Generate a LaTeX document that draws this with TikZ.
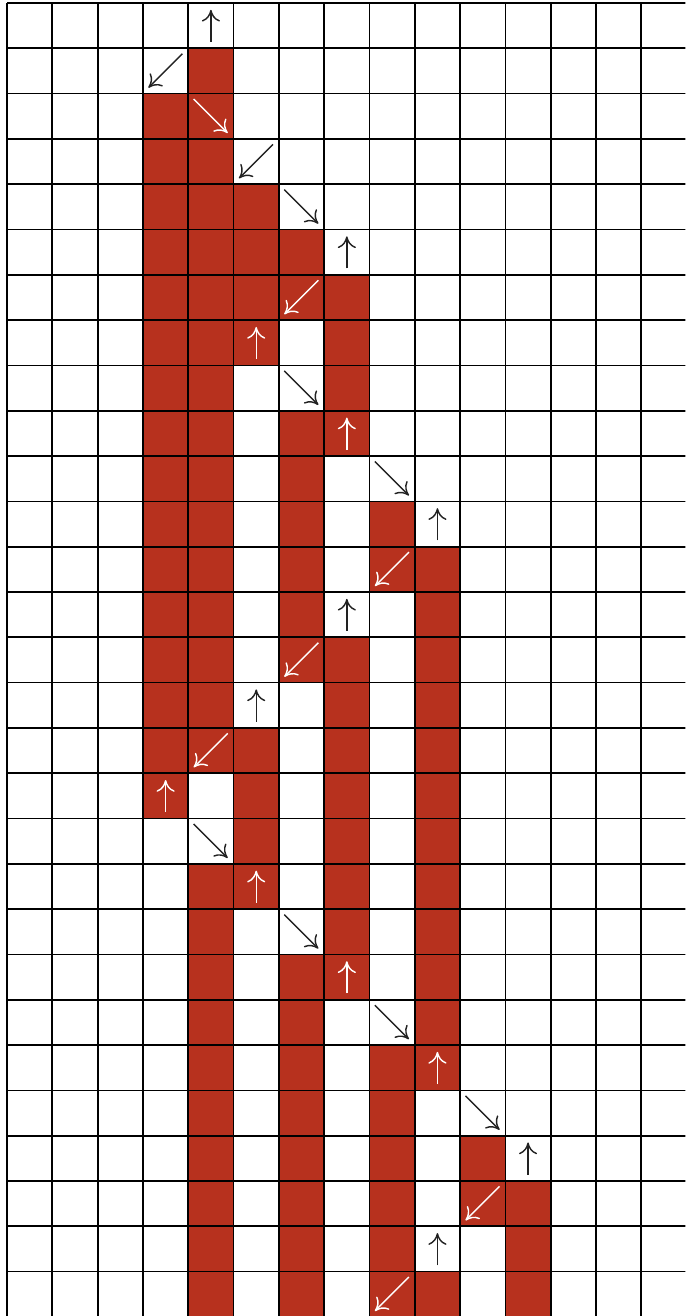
\documentclass[tikz,border=0pt]{standalone}
\usepackage{tikz}
\usepackage{xcolor}
\usetikzlibrary{arrows.meta}
\definecolor{CellRed}{HTML}{B7311E}
\definecolor{Ink}{HTML}{222222}
\tikzset{
  gridline/.style={line width=1.1pt, draw=black},
  cellfill/.style={fill=CellRed},
  flowarrow/.style={-{Computer Modern Rightarrow[length=2.6mm, width=4mm]}, line width=0.9pt}
}
\begin{document}
\begin{tikzpicture}
    \useasboundingbox (-0.155,0.066) rectangle (14.97,-28.98);
    \clip (-0.155,0.066) rectangle (14.97,-28.98);

    % filled cells, column / first row / last row
    \foreach \c/\a/\b in {3/2/17, 4/1/16, 4/19/28, 5/4/7, 5/16/19,
                          6/5/6, 6/9/14, 6/21/28, 7/6/9, 7/14/21,
                          8/11/12, 8/23/28, 9/12/23, 9/28/28,
                          10/25/26, 11/26/28}
      \fill[cellfill] (\c,-\a) rectangle ({\c+1},{-\b-1});

    \draw[gridline] (0,0) grid (15,-29);

    % up arrows
    \foreach \c/\r/\col in {4/0/Ink, 7/5/Ink, 5/7/white, 7/9/white,
                            9/11/Ink, 7/13/Ink, 5/15/Ink, 3/17/white,
                            5/19/white, 7/21/white, 9/23/white,
                            11/25/Ink, 9/27/Ink}
      \draw[flowarrow, draw=\col] ({\c+0.5},{-\r-0.86}) -- ({\c+0.5},{-\r-0.15});
    % down-left arrows
    \foreach \c/\r/\col in {3/1/Ink, 5/3/Ink, 6/6/white, 8/12/white,
                            6/14/white, 4/16/white, 10/26/white, 8/28/white}
      \draw[flowarrow, draw=\col] ({\c+0.87},{-\r-0.12}) -- ({\c+0.12},{-\r-0.87});
    % down-right arrows
    \foreach \c/\r/\col in {4/2/white, 6/4/Ink, 6/8/Ink, 8/10/Ink,
                            4/18/Ink, 6/20/Ink, 8/22/Ink, 10/24/Ink}
      \draw[flowarrow, draw=\col] ({\c+0.12},{-\r-0.12}) -- ({\c+0.87},{-\r-0.87});
\end{tikzpicture}
\end{document}
